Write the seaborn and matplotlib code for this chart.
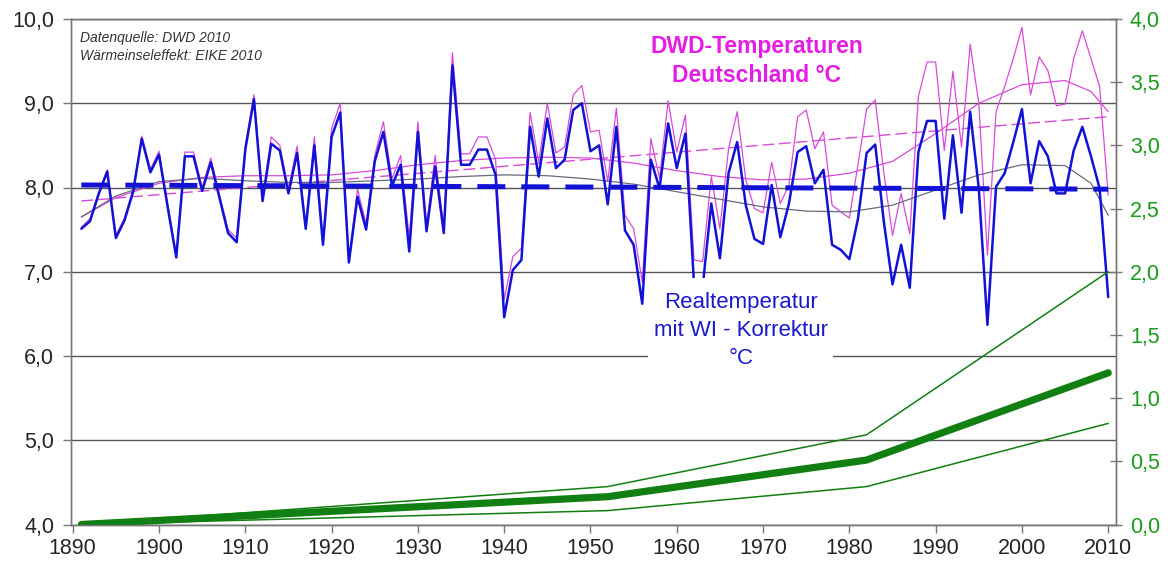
import numpy as np
import pandas as pd
import seaborn as sns
import matplotlib.pyplot as plt
from matplotlib.ticker import FuncFormatter, MultipleLocator
from matplotlib.patches import Rectangle

# years 1891 - 2010
years = list(range(1891, 2011))

# Realtemperatur mit WI-Korrektur (blue)
real_temp = [
    7.51, 7.60, 7.92, 8.19, 7.40, 7.61, 7.95, 8.58, 8.18, 8.39,
    7.77, 7.17, 8.37, 8.37, 7.96, 8.30, 7.88, 7.46, 7.35, 8.45,
    9.05, 7.84, 8.52, 8.44, 7.93, 8.41, 7.51, 8.50, 7.32, 8.60,
    8.89, 7.11, 7.89, 7.50, 8.31, 8.66, 8.02, 8.27, 7.24, 8.66,
    7.48, 8.25, 7.46, 9.45, 8.27, 8.27, 8.45, 8.45, 8.15, 6.46,
    7.02, 7.14, 8.72, 8.13, 8.82, 8.23, 8.33, 8.92, 9.00, 8.43,
    8.50, 7.80, 8.72, 7.49, 7.32, 6.62, 8.33, 7.99, 8.76, 8.23,
    8.64, 6.85, 6.82, 7.81, 7.16, 8.17, 8.54, 7.79, 7.39, 7.33,
    8.03, 7.41, 7.81, 8.42, 8.49, 8.05, 8.21, 7.32, 7.26, 7.15,
    7.63, 8.41, 8.51, 7.59, 6.85, 7.32, 6.81, 8.42, 8.79, 8.79,
    7.63, 8.62, 7.70, 8.90, 7.99, 6.37, 8.01, 8.17, 8.54, 8.93,
    8.05, 8.55, 8.37, 7.93, 7.93, 8.44, 8.72, 8.37, 7.99, 6.70,
]

# DWD-Temperaturen Deutschland (magenta)
dwd_temp = [
    7.53, 7.63, 7.94, 8.21, 7.43, 7.64, 7.98, 8.61, 8.22, 8.43,
    7.81, 7.20, 8.42, 8.42, 8.00, 8.35, 7.92, 7.50, 7.40, 8.50,
    9.10, 7.89, 8.60, 8.50, 7.98, 8.49, 7.56, 8.60, 7.38, 8.70,
    9.00, 7.15, 7.98, 7.57, 8.38, 8.78, 8.10, 8.38, 7.40, 8.78,
    7.55, 8.38, 7.52, 9.60, 8.40, 8.40, 8.60, 8.60, 8.33, 6.67,
    7.18, 7.28, 8.89, 8.30, 9.00, 8.41, 8.48, 9.10, 9.21, 8.66,
    8.68, 8.07, 8.94, 7.67, 7.51, 6.88, 8.58, 8.11, 9.03, 8.42,
    8.86, 7.14, 7.12, 8.13, 7.51, 8.46, 8.90, 8.09, 7.75, 7.70,
    8.30, 7.81, 8.03, 8.84, 8.92, 8.46, 8.66, 7.79, 7.71, 7.64,
    8.27, 8.93, 9.04, 8.17, 7.43, 7.93, 7.45, 9.08, 9.49, 9.49,
    8.44, 9.38, 8.48, 9.70, 9.00, 7.20, 8.90, 9.20, 9.53, 9.90,
    9.10, 9.55, 9.39, 8.97, 8.99, 9.53, 9.86, 9.53, 9.20, 7.91,
]

# trend curves
trend_years = [1891, 1895, 1900, 1905, 1910, 1915, 1920, 1925, 1930, 1935,
               1940, 1945, 1950, 1955, 1960, 1965, 1970, 1975, 1980, 1985,
               1990, 1995, 2000, 2005, 2008, 2010]
dwd_poly = [7.65, 7.88, 8.05, 8.12, 8.14, 8.14, 8.15, 8.20, 8.27, 8.32,
            8.35, 8.36, 8.35, 8.29, 8.20, 8.13, 8.09, 8.10, 8.17, 8.31,
            8.64, 9.00, 9.22, 9.27, 9.14, 8.90]
real_poly = [7.65, 7.90, 8.07, 8.11, 8.08, 8.06, 8.06, 8.08, 8.10, 8.13,
             8.15, 8.14, 8.10, 8.04, 7.95, 7.86, 7.77, 7.72, 7.71, 7.79,
             7.97, 8.15, 8.27, 8.26, 8.05, 7.67]

lin_years = [1891, 2010]
dwd_linear = [7.84, 8.84]
real_linear = [8.03, 7.98]

# Waermeinseleffekt (right axis)
wi_years = [1891, 1952, 1982, 2010]
wi_mid = [0.0, 0.22, 0.51, 1.20]
wi_high = [0.0, 0.30, 0.71, 2.00]
wi_low = [0.0, 0.11, 0.30, 0.80]

sns.set_style("white")
plt.rcParams['font.family'] = ['Liberation Sans', 'DejaVu Sans']

blue = '#1212d6'
magenta = '#d84ad8'
green = '#117f11'

fig = plt.figure(figsize=(11.73, 5.72), dpi=100)
ax = fig.add_axes([71 / 1173, 47.5 / 572, 1045 / 1173, 505.5 / 572])

df = pd.DataFrame({'year': years, 'real': real_temp, 'dwd': dwd_temp})
tr = pd.DataFrame({'year': trend_years, 'dwd': dwd_poly, 'real': real_poly})
lin = pd.DataFrame({'year': lin_years, 'dwd': dwd_linear, 'real': real_linear})
wi = pd.DataFrame({'year': wi_years, 'mid': wi_mid, 'high': wi_high, 'low': wi_low})

sns.lineplot(data=df, x='year', y='dwd', ax=ax, color=magenta, lw=0.9,
             estimator=None, zorder=2)
sns.lineplot(data=lin, x='year', y='dwd', ax=ax, color=magenta, lw=1.0,
             linestyle=(0, (8.5, 3.5)), estimator=None, zorder=2.2)
sns.lineplot(data=tr, x='year', y='dwd', ax=ax, color=magenta, lw=0.9,
             estimator=None, zorder=2.3)
sns.lineplot(data=tr, x='year', y='real', ax=ax, color='#6a6a7e', lw=0.9,
             estimator=None, zorder=2.4)
sns.lineplot(data=df, x='year', y='real', ax=ax, color=blue, lw=1.8,
             estimator=None, zorder=3)
sns.lineplot(data=lin, x='year', y='real', ax=ax, color=blue, lw=3.6,
             linestyle=(0, (5.6, 3.2)), estimator=None, zorder=3.5)

ax.set_xlim(1889.8, 2010.9)
ax.set_ylim(4, 10)
ax.xaxis.set_major_locator(MultipleLocator(10))
ax.yaxis.set_major_locator(MultipleLocator(1))
ax.yaxis.set_major_formatter(FuncFormatter(lambda v, p: f"{v:.1f}".replace('.', ',')))
ax.set_xlabel('')
ax.set_ylabel('')
ax.grid(axis='y', color='#555555', lw=1.0)
ax.grid(axis='x', visible=False)
ax.set_axisbelow(True)
ax.tick_params(axis='y', direction='out', length=6, width=1, color='#777777',
               labelsize=15.5, pad=6, left=True)
ax.tick_params(axis='x', direction='out', length=5.5, width=1, color='#777777',
               labelsize=15.5, pad=4, bottom=True)
for s in ax.spines.values():
    s.set_color('#777777')
    s.set_linewidth(1.0)

# white background of the blue label (hides lines and gridline behind it)
ax.add_patch(Rectangle((1956.7, 5.72), 21.4, 1.21, facecolor='white',
                       edgecolor='none', zorder=5))
ax.text(1967.4, 6.30, 'Realtemperatur\nmit WI - Korrektur\n°C', ha='center', va='center',
        fontsize=16, color='#1a1acc', linespacing=1.45, zorder=6)

ax2 = ax.twinx()
sns.lineplot(data=wi, x='year', y='high', ax=ax2, color=green, lw=1.1, estimator=None)
sns.lineplot(data=wi, x='year', y='low', ax=ax2, color=green, lw=1.1, estimator=None)
sns.lineplot(data=wi, x='year', y='mid', ax=ax2, color=green, lw=5.2,
             estimator=None, solid_capstyle='round')
ax2.set_ylim(0, 4)
ax2.set_ylabel('')
ax2.yaxis.set_major_locator(MultipleLocator(0.5))
ax2.yaxis.set_major_formatter(FuncFormatter(lambda v, p: f"{v:.1f}".replace('.', ',')))
ax2.tick_params(axis='y', direction='inout', length=8, width=1, color='#777777',
                labelsize=15.5, labelcolor='#1c9a1c', pad=6, right=True)
for s in ax2.spines.values():
    s.set_color('#777777')
    s.set_linewidth(1.0)

ax.text(0.0086, 0.976, 'Datenquelle: DWD 2010\nWärmeinseleffekt: EIKE 2010',
        transform=ax.transAxes, ha='left', va='top', fontsize=10,
        style='italic', color='#333333', linespacing=1.35)
ax2.text(1969.25, 3.667, 'DWD-Temperaturen\nDeutschland °C', ha='center', va='center',
         fontsize=16.5, fontweight='bold', color='#e41ee4', linespacing=1.3)

fig.savefig('out.png', dpi=100)
